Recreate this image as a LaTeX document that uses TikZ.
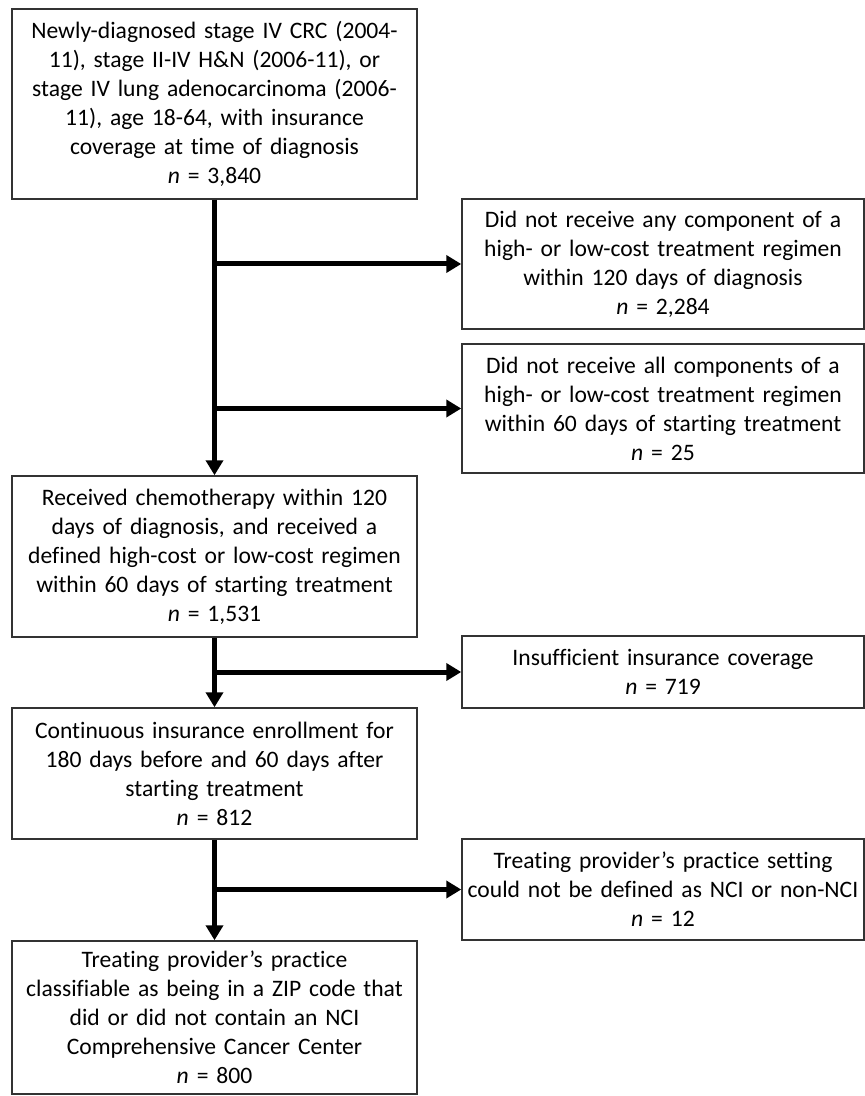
\documentclass[tikz,border=0pt]{standalone}
\usepackage{fontspec}
\setmainfont{Carlito}[Ligatures=NoCommon, WordSpace=0.8]
\usepackage{tikz}
\usetikzlibrary{arrows.meta,positioning}

\begin{document}
\begin{tikzpicture}[x=0.5pt, y=-0.5pt,
  block/.style={rectangle, draw=black!80, line width=0.75pt, text width=200pt, align=center, inner sep=0pt, minimum width=202.5pt, font=\fontsize{11.8}{14.5}\selectfont},
  side/.style={block, minimum width=201pt},
  line/.style={draw, line width=2.5pt, -{Triangle[length=7.5pt, width=8.5pt]}}]

  \useasboundingbox (0,0) rectangle (865,1096);

  % main column
  \node [block, minimum height=95pt] (start) at (214.5,104) {Newly-diagnosed stage IV CRC (2004-\\11), stage II-IV H\&N (2006-11), or\\stage IV lung adenocarcinoma (2006-\\11), age 18-64, with insurance\\coverage at time of diagnosis\\\textit{n} = 3,840};
  \node [block, minimum height=80.5pt] (chemo) at (214.5,556.5) {Received chemotherapy within 120\\days of diagnosis, and received a\\defined high-cost or low-cost regimen\\within 60 days of starting treatment\\\textit{n} = 1,531};
  \node [block, minimum height=65.5pt] (enroll) at (214.5,773.5) {Continuous insurance enrollment for\\180 days before and 60 days after\\starting treatment\\\textit{n} = 812};
  \node [block, minimum height=76.5pt] (final) at (214.5,1017.5) {Treating provider’s practice\\classifiable as being in a ZIP code that\\did or did not contain an NCI\\Comprehensive Cancer Center\\\textit{n} = 800};

  % exclusions
  \node [side, minimum height=65pt] (noany) at (663,264) {Did not receive any component of a\\high- or low-cost treatment regimen\\within 120 days of diagnosis\\\textit{n} = 2,284};
  \node [side, minimum height=64.5pt] (noall) at (663,408.5) {Did not receive all components of a\\high- or low-cost treatment regimen\\within 60 days of starting treatment\\\textit{n} = 25};
  \node [side, minimum height=36pt] (insur) at (663,672) {Insufficient insurance coverage\\\textit{n} = 719};
  \node [side, minimum height=50.5pt] (setting) at (663,889.5) {Treating provider’s practice setting\\could not be defined as NCI or non-NCI\\\textit{n} = 12};

  \draw [line] (start) -- (chemo);
  \draw [line] (chemo) -- (enroll);
  \draw [line] (enroll) -- (final);
  \draw [line] (start.south |- noany.west) -- (noany.west);
  \draw [line] (start.south |- noall.west) -- (noall.west);
  \draw [line] (chemo.south |- insur.west) -- (insur.west);
  \draw [line] (enroll.south |- setting.west) -- (setting.west);
\end{tikzpicture}
\end{document}
